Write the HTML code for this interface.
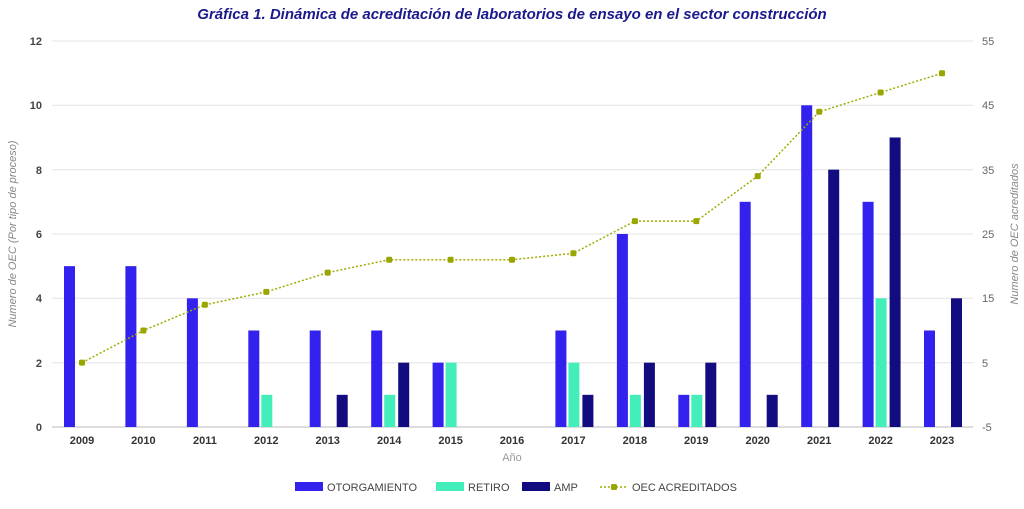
<!DOCTYPE html>
<html><head><meta charset="utf-8"><style>
body{margin:0;background:#fff;}
svg text{font-family:"Liberation Sans",sans-serif;}
</style></head><body>
<svg width="1024" height="504" viewBox="0 0 1024 504" xmlns="http://www.w3.org/2000/svg">
<rect width="1024" height="504" fill="#fff"/>
<text x="512" y="19" text-anchor="middle" font-size="15" font-weight="bold" font-style="italic" fill="#1a1a8c">Gráfica 1. Dinámica de acreditación de laboratorios de ensayo en el sector construcción</text>
<g stroke="#e4e4e4" stroke-width="1">
<line x1="52" y1="41" x2="973" y2="41"/><line x1="52" y1="105.3" x2="973" y2="105.3"/>
<line x1="52" y1="169.7" x2="973" y2="169.7"/><line x1="52" y1="234" x2="973" y2="234"/>
<line x1="52" y1="298.3" x2="973" y2="298.3"/><line x1="52" y1="362.7" x2="973" y2="362.7"/>
</g>
<line x1="52" y1="427" x2="973" y2="427" stroke="#bbb"/>
<g font-size="11" font-weight="bold" fill="#444" text-anchor="end">
<text x="42" y="45">12</text><text x="42" y="109">10</text><text x="42" y="174">8</text>
<text x="42" y="238">6</text><text x="42" y="302">4</text><text x="42" y="367">2</text><text x="42" y="431">0</text>
</g>
<g font-size="11" fill="#666" text-anchor="start">
<text x="982" y="45">55</text><text x="982" y="109">45</text><text x="982" y="174">35</text>
<text x="982" y="238">25</text><text x="982" y="302">15</text><text x="982" y="367">5</text><text x="982" y="431">-5</text>
</g>
<text transform="translate(16,234) rotate(-90)" text-anchor="middle" font-size="11" font-style="italic" fill="#888">Numero de OEC (Por tipo de proceso)</text>
<text transform="translate(1018,234) rotate(-90)" text-anchor="middle" font-size="11" font-style="italic" fill="#888">Numero de OEC acreditados</text>
<text x="512" y="461" text-anchor="middle" font-size="11" fill="#999">Año</text>
<g fill="#3322ee">
<rect x="64" y="266.15" width="11" height="160.85"/>
<rect x="125.4" y="266.15" width="11" height="160.85"/>
<rect x="186.9" y="298.32" width="11" height="128.68"/>
<rect x="248.3" y="330.49" width="11" height="96.51"/>
<rect x="309.7" y="330.49" width="11" height="96.51"/>
<rect x="371.2" y="330.49" width="11" height="96.51"/>
<rect x="432.6" y="362.66" width="11" height="64.34"/>
<rect x="555.4" y="330.49" width="11" height="96.51"/>
<rect x="616.9" y="233.98" width="11" height="193.02"/>
<rect x="678.3" y="394.83" width="11" height="32.17"/>
<rect x="739.7" y="201.81" width="11" height="225.19"/>
<rect x="801.2" y="105.3" width="11" height="321.7"/>
<rect x="862.6" y="201.81" width="11" height="225.19"/>
<rect x="924" y="330.49" width="11" height="96.51"/>
</g>
<g fill="#44eebb">
<rect x="261.3" y="394.83" width="11" height="32.17"/>
<rect x="384.2" y="394.83" width="11" height="32.17"/>
<rect x="445.6" y="362.66" width="11" height="64.34"/>
<rect x="568.4" y="362.66" width="11" height="64.34"/>
<rect x="629.9" y="394.83" width="11" height="32.17"/>
<rect x="691.3" y="394.83" width="11" height="32.17"/>
<rect x="875.6" y="298.32" width="11" height="128.68"/>
</g>
<g fill="#120c80">
<rect x="336.7" y="394.83" width="11" height="32.17"/>
<rect x="398.2" y="362.66" width="11" height="64.34"/>
<rect x="582.4" y="394.83" width="11" height="32.17"/>
<rect x="643.9" y="362.66" width="11" height="64.34"/>
<rect x="705.3" y="362.66" width="11" height="64.34"/>
<rect x="766.7" y="394.83" width="11" height="32.17"/>
<rect x="828.2" y="169.64" width="11" height="257.36"/>
<rect x="889.6" y="137.47" width="11" height="289.53"/>
<rect x="951" y="298.32" width="11" height="128.68"/>
</g>
<g font-size="11" font-weight="bold" fill="#333" text-anchor="middle">
<text x="82" y="444">2009</text><text x="143.4" y="444">2010</text><text x="204.9" y="444">2011</text>
<text x="266.3" y="444">2012</text><text x="327.7" y="444">2013</text><text x="389.2" y="444">2014</text>
<text x="450.6" y="444">2015</text><text x="512" y="444">2016</text><text x="573.4" y="444">2017</text>
<text x="634.9" y="444">2018</text><text x="696.3" y="444">2019</text><text x="757.7" y="444">2020</text>
<text x="819.2" y="444">2021</text><text x="880.6" y="444">2022</text><text x="942" y="444">2023</text>
</g>
<polyline fill="none" stroke="#a0ac00" stroke-width="1.5" stroke-dasharray="2,2" stroke-linejoin="round"
points="82,362.65 143.4,330.5 204.9,304.8 266.3,291.9 327.7,272.6 389.2,259.7 450.6,259.7 512,259.7 573.4,253.3 634.9,221.1 696.3,221.1 757.7,176.1 819.2,111.8 880.6,92.5 942,73.2"/>
<g fill="#9aa600">
<rect x="79" y="359.65" width="6" height="6" rx="1.5"/>
<rect x="140.4" y="327.5" width="6" height="6" rx="1.5"/>
<rect x="201.9" y="301.8" width="6" height="6" rx="1.5"/>
<rect x="263.3" y="288.9" width="6" height="6" rx="1.5"/>
<rect x="324.7" y="269.6" width="6" height="6" rx="1.5"/>
<rect x="386.2" y="256.7" width="6" height="6" rx="1.5"/>
<rect x="447.6" y="256.7" width="6" height="6" rx="1.5"/>
<rect x="509" y="256.7" width="6" height="6" rx="1.5"/>
<rect x="570.4" y="250.3" width="6" height="6" rx="1.5"/>
<rect x="631.9" y="218.1" width="6" height="6" rx="1.5"/>
<rect x="693.3" y="218.1" width="6" height="6" rx="1.5"/>
<rect x="754.7" y="173.1" width="6" height="6" rx="1.5"/>
<rect x="816.2" y="108.8" width="6" height="6" rx="1.5"/>
<rect x="877.6" y="89.5" width="6" height="6" rx="1.5"/>
<rect x="939" y="70.2" width="6" height="6" rx="1.5"/>
</g>
<rect x="295" y="482" width="28" height="9" fill="#3322ee"/>
<text x="327" y="491" font-size="11" fill="#444">OTORGAMIENTO</text>
<rect x="436" y="482" width="28" height="9" fill="#44eebb"/>
<text x="468" y="491" font-size="11" fill="#444">RETIRO</text>
<rect x="522" y="482" width="28" height="9" fill="#120c80"/>
<text x="554" y="491" font-size="11" fill="#444">AMP</text>
<line x1="600" y1="487" x2="628" y2="487" stroke="#a0ac00" stroke-width="1.5" stroke-dasharray="2,2"/>
<rect x="611" y="484" width="6" height="6" rx="1.5" fill="#9aa600"/>
<text x="632" y="491" font-size="11" fill="#444">OEC ACREDITADOS</text>
</svg>
</body></html>
